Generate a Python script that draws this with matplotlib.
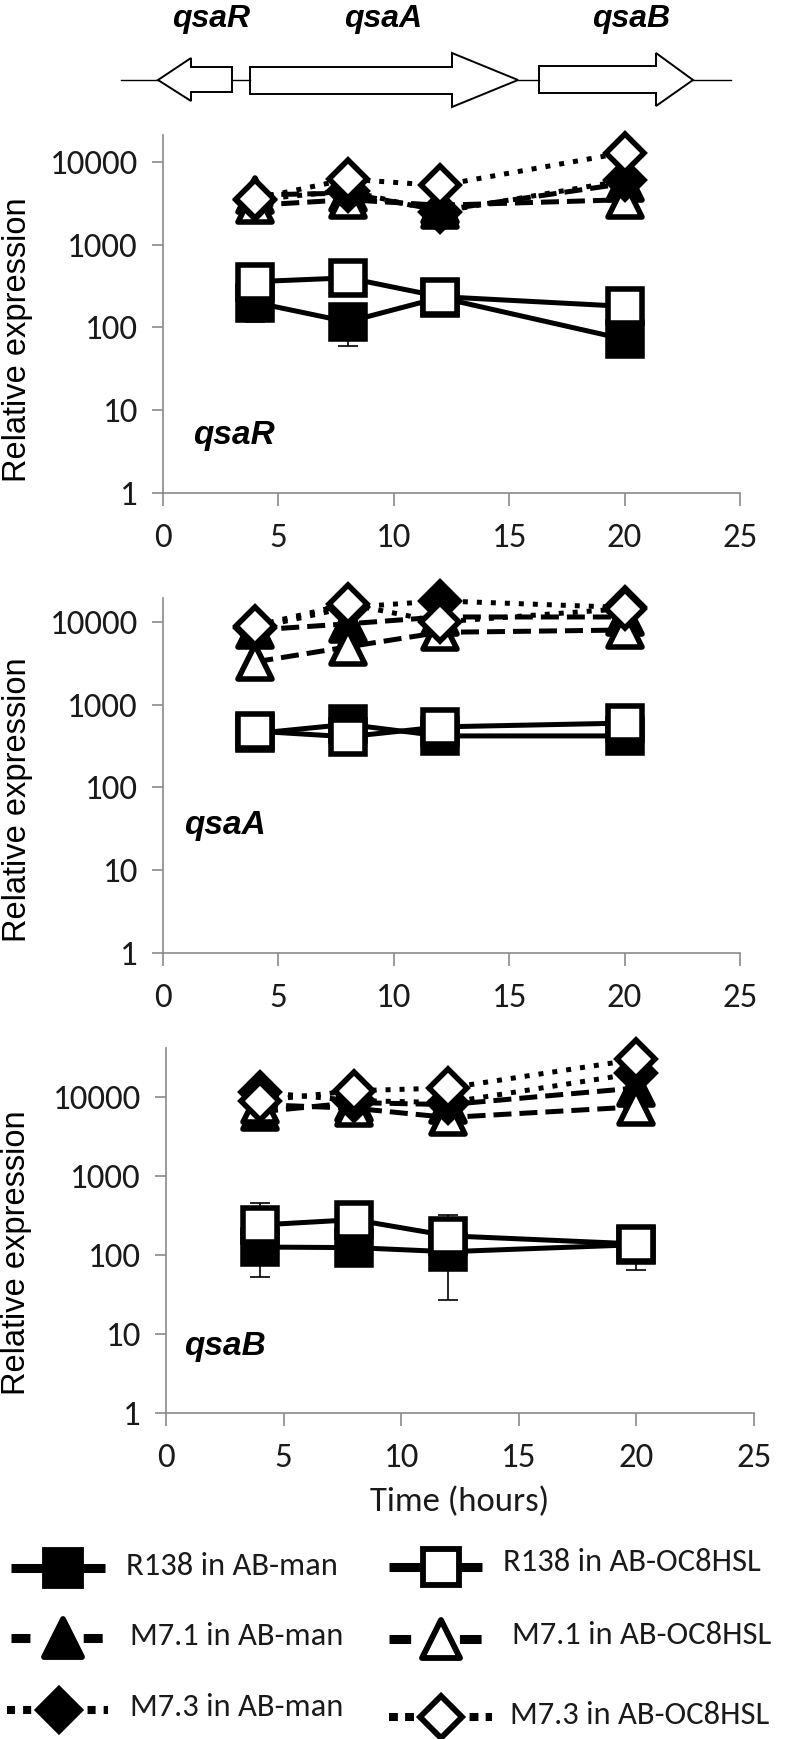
import numpy as np
import matplotlib
matplotlib.use("Agg")
import matplotlib.pyplot as plt
from matplotlib.patches import Polygon
from matplotlib.markers import MarkerStyle
from matplotlib.ticker import FixedLocator, FixedFormatter, NullLocator
from matplotlib import font_manager

# ---------------- data ----------------
times = [4, 8, 12, 20]
series_labels = ["R138 in AB-man", "R138 in AB-OC8HSL",
                 "M7.1 in AB-man", "M7.1 in AB-OC8HSL",
                 "M7.3 in AB-man", "M7.3 in AB-OC8HSL"]
genes = ["qsaR", "qsaA", "qsaB"]
x_ticks = [0, 5, 10, 15, 20, 25]
y_ticks = [1, 10, 100, 1000, 10000]
y_tick_labels = ["1", "10", "100", "1000", "10000"]
x_label = "Time (hours)"
y_label = "Relative expression"

# qsaR panel
qsaR_R138_man = [200, 117, 230, 72]
qsaR_R138_oc8 = [358, 398, 236, 180]
qsaR_M71_man = [4000, 4200, 2600, 5500]
qsaR_M71_oc8 = [3000, 3500, 3000, 3500]
qsaR_M73_man = [3500, 4500, 2500, 6000]
qsaR_M73_oc8 = [3600, 6200, 5200, 13000]
qsaR_R138_man_err_lo = [85, 57, 0, 0]
qsaR_M71_man_err_lo = [0, 1900, 0, 0]

# qsaA panel
qsaA_R138_man = [450, 580, 420, 420]
qsaA_R138_oc8 = [480, 410, 540, 600]
qsaA_M71_man = [8000, 9500, 11500, 11500]
qsaA_M71_oc8 = [3300, 5000, 7500, 8000]
qsaA_M73_man = [8500, 15000, 18000, 15000]
qsaA_M73_oc8 = [9000, 16500, 10000, 14500]

# qsaB panel
qsaB_R138_man = [126, 124, 110, 135]
qsaB_R138_oc8 = [240, 280, 175, 138]
qsaB_M71_man = [6500, 8500, 8000, 13000]
qsaB_M71_oc8 = [8000, 7200, 5500, 7500]
qsaB_M73_man = [11500, 9000, 8500, 20000]
qsaB_M73_oc8 = [9000, 12000, 13000, 30000]
qsaB_R138_man_err_lo = [73, 0, 83, 70]
qsaB_R138_oc8_err_hi = [210, 0, 145, 0]

# ---------------- fonts ----------------
names = {f.name for f in font_manager.fontManager.ttflist}
if "Carlito" in names:
    CAL = ["Carlito", "DejaVu Sans"]
    CAL_SCALE = 1.0
else:
    CAL = ["Lato", "Liberation Sans", "DejaVu Sans"]
    CAL_SCALE = 0.9
ARIAL = ["Liberation Sans", "DejaVu Sans"]

W, H = 788, 1739
fig = plt.figure(figsize=(W / 100, H / 100), dpi=100)
GRAY = "#8a8a8a"
TXT = "#1a1a1a"
LW = 3.6
MEW = 4.0
TICK_FS = 25 * CAL_SCALE
LEG_FS = 23.5 * CAL_SCALE

markers = [MarkerStyle("s"), MarkerStyle("s"),
           MarkerStyle("^", joinstyle="round"), MarkerStyle("^", joinstyle="round"),
           MarkerStyle("D"), MarkerStyle("D")]
msizes = [24, 24, 25, 25, 19, 19]
faces = ["black", "white", "black", "white", "black", "white"]
lstyles = ["-", "-", (0, (3.6, 1.6)), (0, (3.6, 1.6)), (0, (1, 1.8)), (0, (1, 1.8))]

# panel boxes in pixels: left, right, top, bottom, log10(ymax)
panels = [(163, 740, 135, 493, 4.326),
          (163, 740, 598, 953, 4.29),
          (166, 754, 1048, 1413, 4.62)]

panel_data = [
    [qsaR_R138_man, qsaR_R138_oc8, qsaR_M71_man, qsaR_M71_oc8, qsaR_M73_man, qsaR_M73_oc8],
    [qsaA_R138_man, qsaA_R138_oc8, qsaA_M71_man, qsaA_M71_oc8, qsaA_M73_man, qsaA_M73_oc8],
    [qsaB_R138_man, qsaB_R138_oc8, qsaB_M71_man, qsaB_M71_oc8, qsaB_M73_man, qsaB_M73_oc8],
]
zeros = [0, 0, 0, 0]
panel_errs = [
    [(0, qsaR_R138_man_err_lo, zeros), (2, qsaR_M71_man_err_lo, zeros)],
    [],
    [(0, qsaB_R138_man_err_lo, zeros), (1, zeros, qsaB_R138_oc8_err_hi)],
]
gene_text_pos = [(1.3, 5), (0.9, 35), (0.75, 7)]
ylabel_y = [0.427, 0.431, 0.438]

for p, (l, r, t, b, ymax) in enumerate(panels):
    ax = fig.add_axes([l / W, 1 - b / H, (r - l) / W, (b - t) / H])
    ax.set_yscale("log")
    ax.set_xlim(0, 25)
    ax.set_ylim(1, 10 ** ymax)
    data = panel_data[p]
    for (i, lo, hi) in panel_errs[p]:
        ax.errorbar(times, data[i], yerr=[lo, hi], fmt="none", ecolor="black",
                    elinewidth=1.2, capsize=7, capthick=1.2, zorder=2.5)
    for i, vals in enumerate(data):
        ax.plot(times, vals, linestyle=lstyles[i], color="black", lw=LW,
                marker=markers[i], ms=msizes[i], mfc=faces[i], mec="black",
                mew=MEW, dash_capstyle="butt", zorder=3 + i, clip_on=False)
    for s in ["top", "right"]:
        ax.spines[s].set_visible(False)
    for s in ["left", "bottom"]:
        ax.spines[s].set_color(GRAY)
        ax.spines[s].set_linewidth(1.2)
    ax.xaxis.set_major_locator(FixedLocator(x_ticks))
    ax.xaxis.set_major_formatter(FixedFormatter([str(v) for v in x_ticks]))
    ax.yaxis.set_major_locator(FixedLocator(y_ticks))
    ax.yaxis.set_major_formatter(FixedFormatter(y_tick_labels))
    ax.yaxis.set_minor_locator(NullLocator())
    ax.tick_params(axis="y", length=8, width=1.2, color=GRAY, pad=10,
                   labelsize=TICK_FS, labelcolor=TXT)
    ax.tick_params(axis="x", length=9.5, width=1.2, color=GRAY, pad=12,
                   labelsize=TICK_FS, labelcolor=TXT)
    for lab in ax.get_xticklabels() + ax.get_yticklabels():
        lab.set_family(CAL)
    ax.set_ylabel(y_label, fontsize=23.5, family=ARIAL, color="black", va="center")
    ax.yaxis.set_label_coords((17 - l) / (r - l), ylabel_y[p])
    gx, gy = gene_text_pos[p]
    ax.text(gx, gy, genes[p], fontsize=24, fontweight="bold", fontstyle="italic",
            family=ARIAL, ha="left", va="center", color="black")
    if p == 2:
        ax.set_xlabel(x_label, fontsize=TICK_FS, family=CAL, color=TXT, va="center")
        ax.xaxis.set_label_coords(0.5, (b - 1502) / (b - t))

# ---------------- overlay: gene map and legend ----------------
ov = fig.add_axes([0, 0, 1, 1])
ov.set_xlim(0, W)
ov.set_ylim(H, 0)
ov.axis("off")
ov.patch.set_alpha(0)

for x0, x1 in [(121, 158), (232, 250), (518, 539), (693, 731)]:
    ov.plot([x0, x1], [80, 80], color="black", lw=1.0)
arrows = [
    [(158, 80), (191, 58), (191, 67), (232, 67), (232, 92), (191, 92), (191, 101)],
    [(250, 67), (452, 67), (452, 53), (518, 80), (452, 107), (452, 94), (250, 94)],
    [(539, 66), (656, 66), (656, 53), (693, 80), (656, 106), (656, 93), (539, 93)],
]
for pts in arrows:
    ov.add_patch(Polygon(pts, closed=True, facecolor="white", edgecolor="black", lw=1.4))
for g, gx in zip(genes, [211, 383, 631]):
    ov.text(gx, 19, g, fontsize=23, fontweight="bold", fontstyle="italic",
            family=ARIAL, ha="center", va="center", color="black")

# legend
leg_lstyles = ["-", "-", (0, (2.1, 5.9)), (0, (2.4, 5.4)), (0, (1, 1)), (0, (1.1, 0.9))]
leg_lw = [6.5, 6.5, 6.5, 6.5, 5.8, 5.8]
# per entry: line x0, x1, marker x, marker y, text x, text y
leg_layout = [
    (11, 105, 63, 1568, 126, 1566),
    (389, 482, 441, 1567, 503, 1562),
    (11, 103, 63, 1638, 130, 1636),
    (389, 482, 441, 1639, 512, 1635),
    (7, 108, 59, 1710, 130, 1707),
    (389, 492, 441, 1717, 510, 1715),
]
for i, (x0, x1, mx, my, tx, ty) in enumerate(leg_layout):
    ov.plot([x0, x1], [my, my], color="black", lw=leg_lw[i], linestyle=leg_lstyles[i],
            dash_capstyle="butt", solid_capstyle="butt")
    ov.plot([mx], [my], marker=markers[i], ms=msizes[i] + 2, mfc=faces[i], mec="black",
            mew=4.2, linestyle="none")
    ov.text(tx, ty, series_labels[i], fontsize=LEG_FS, family=CAL, color=TXT,
            ha="left", va="center")

fig.savefig("out.png", dpi=100)
